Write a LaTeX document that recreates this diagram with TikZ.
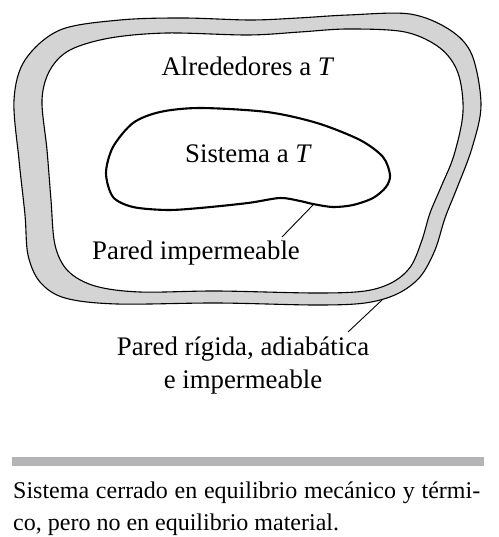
\documentclass[tikz,border=0pt]{standalone}
\usepackage{fontspec}
\setmainfont{Liberation Serif}
\usepackage{tikz}
\usepackage{xcolor}
\usetikzlibrary{positioning, calc}
\definecolor{wallgray}{RGB}{212,212,212}
\definecolor{bargray}{RGB}{180,180,182}

\begin{document}
\begin{tikzpicture}[x=1pt, y=-1pt,
  lbl/.style={inner sep=0pt, font=\fontsize{26.8}{33}\selectfont},
  leader/.style={line width=0.9pt}]
\useasboundingbox (0,0) rectangle (498,537);
% Rigid wall
\path[fill=wallgray, draw=black, line width=1.1pt, even odd rule]
  plot[smooth cycle, tension=0.55] coordinates {
    (14,100) (19,160) (25,215) (28,255) (40,282) (65,298)
    (117,304) (217,303) (315,305) (365,303)
    (397,294) (420,277) (435,250) (445,218) (457,188)
    (472,148) (481,105) (472,55) (450,30)
    (410,14) (348,15) (298,18) (250,20) (183,18) (120,20)
    (60,30) (25,60)}
  plot[smooth cycle, tension=0.55] coordinates {
    (42,100) (47,150) (51,200) (55,245) (68,271) (95,286)
    (140,292) (217,291) (315,293) (365,291)
    (393,282) (411,266) (422,240) (430,213) (441,187)
    (454,155) (463,112) (458,73) (440,48) (405,32) (348,29)
    (300,32) (248,35) (167,33) (110,38) (70,50) (50,70)};
% System
\draw[line width=2.1pt]
  plot[smooth cycle, tension=0.5] coordinates {
    (200,108) (267,112) (317,123) (360,140) (383,157) (390,175)
    (386,187) (373,198) (353,205) (333,207) (313,204) (300,201)
    (280,198) (248,203) (200,208) (167,210) (133,207) (113,197)
    (106,173) (113,147) (133,123) (160,112)};
% Labels
\node[lbl, anchor=base] (surr) at (248,76) {Alrededores a \textit{T}};
\node[lbl, anchor=base] (sys) at (248.5,163) {Sistema a \textit{T}};
\node[lbl, anchor=base west] (imp) at (92,259) {Pared impermeable};
\node[lbl, anchor=base, align=center] (rig) at (243,388)
  {Pared rígida, adiabática\\e impermeable};
% Leaders
\coordinate (sysw) at (313,205);
\coordinate (impend) at (282,237);
\coordinate (wallw) at (382,300);
\coordinate (rigend) at (348,332);
\draw[leader] (sysw) -- (impend);
\draw[leader] (wallw) -- (rigend);
% Caption
\fill[bargray] (12,457) rectangle (484,466);
\node[inner sep=0pt, anchor=base west, text width=467pt, align=justify,
  font=\fontsize{24}{32}\selectfont] (cap) at (13,498)
  {Sistema cerrado en equilibrio mecánico y térmi-\linebreak
   co, pero no en equilibrio material.};
\end{tikzpicture}
\end{document}
